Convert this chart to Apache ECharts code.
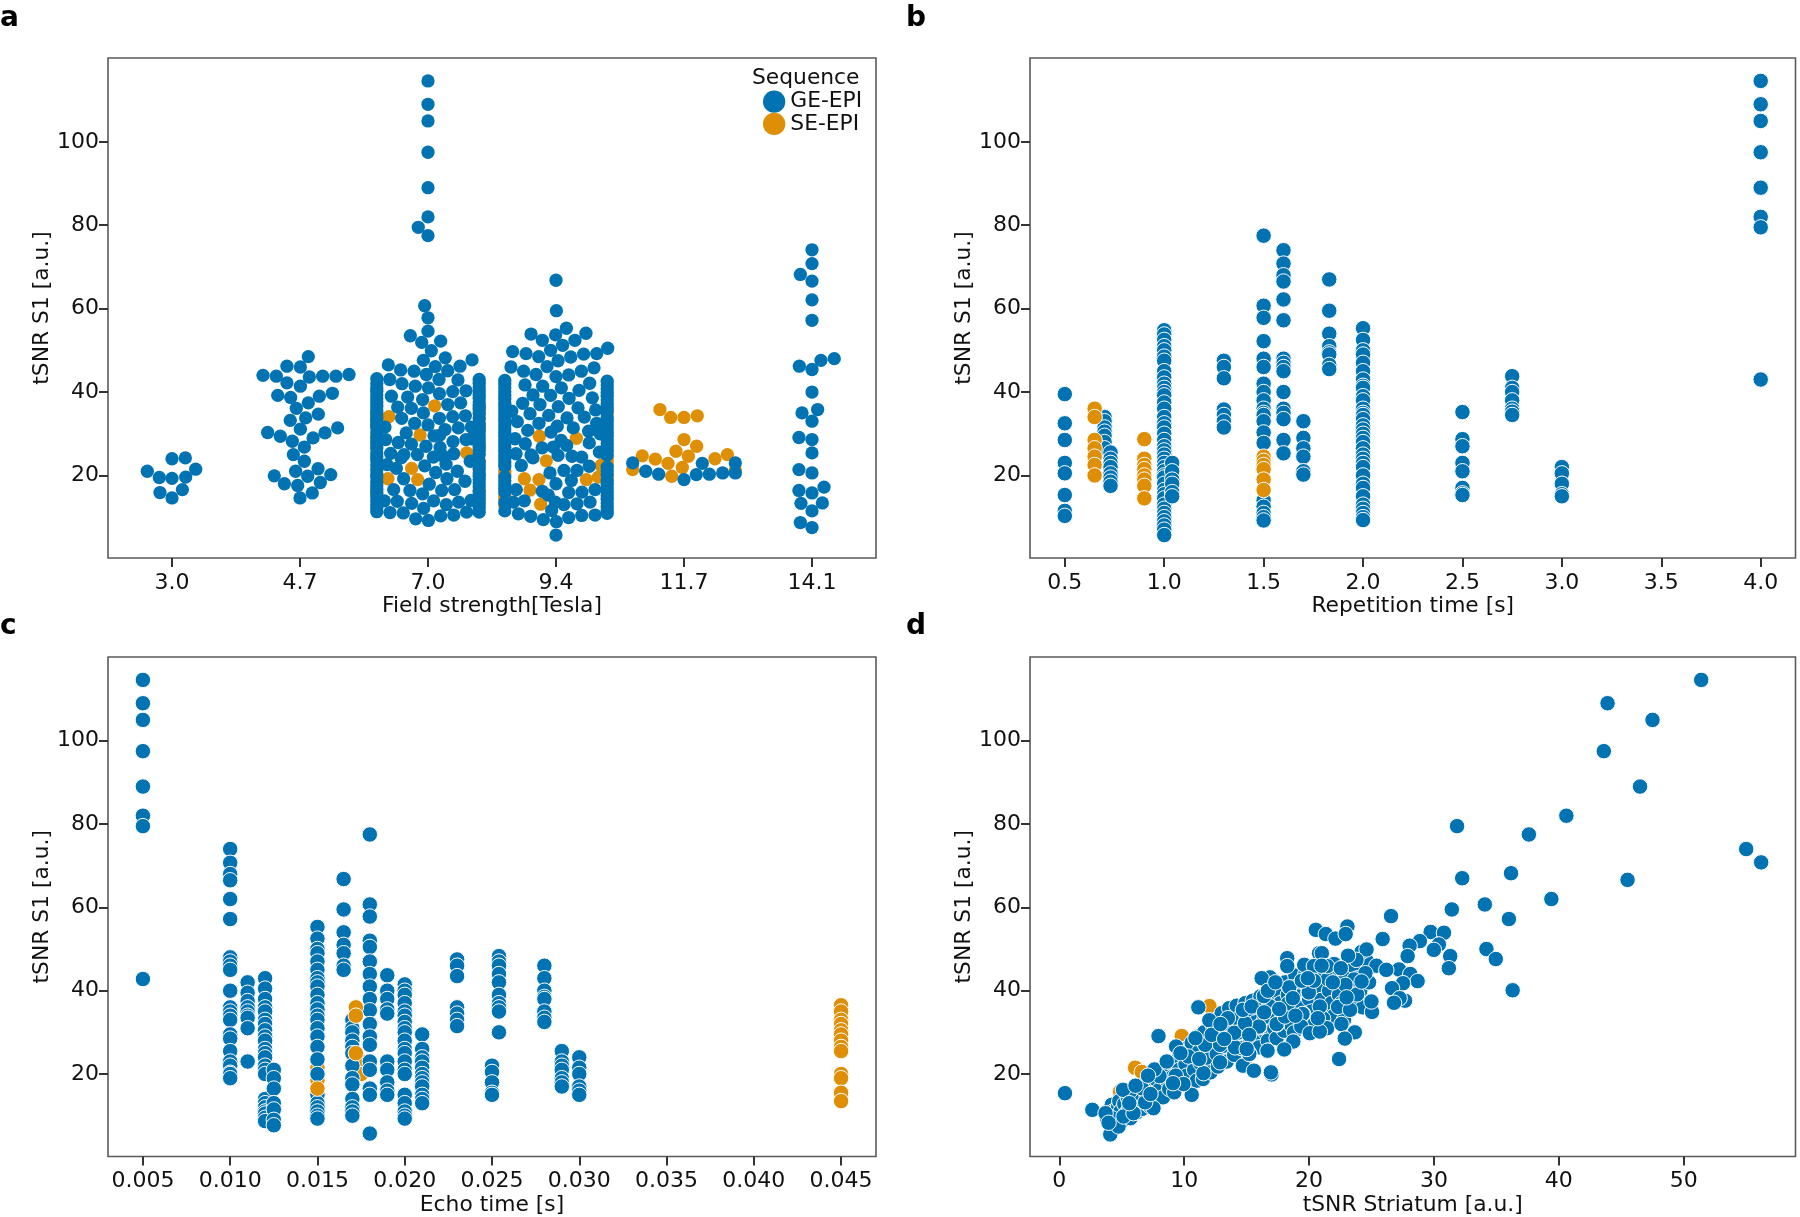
<!DOCTYPE html>
<html><head><meta charset="utf-8">
<script src="https://cdn.jsdelivr.net/npm/echarts@6/dist/echarts.min.js"></script>
<style>html,body{margin:0;padding:0;background:#fff}#c{width:1800px;height:1217px}</style>
</head><body><div id="c"></div>
<script>
// ---------- labels ----------
const fieldLabels = ['3.0','4.7','7.0','9.4','11.7','14.1'];
const seqNames = ['GE-EPI','SE-EPI'];
const yTicks = [20,40,60,80,100];
const trTicks = [0.5,1,1.5,2,2.5,3,3.5,4];
const teTicks = [0.005,0.01,0.015,0.02,0.025,0.03,0.035,0.04,0.045];
const stTicks = [0,10,20,30,40,50];

// ---------- panel a: [offset from field category, tSNR S1] ----------
const a30 = [[0,24],[.104,24.2],[-.193,21],[-.099,19.5],[0,19.3],[.107,19.6],[.185,21.5],[-.094,15.9],[0,14.6],[.081,16.6]];
const a47 = [[.065,48.5],[-.102,46.2],[.003,46],[-.289,44],[-.185,43.8],[.073,43.6],[.177,43.8],[.281,43.8],[.383,44.2],[-.102,42.2],[.003,41.4],[-.174,39.2],[-.073,38.7],[.151,39],[.253,39.7],[.065,37.4],[-.029,36.1],[.143,34.7],[.044,33.8],[-.076,33.2],[.003,31.1],[-.253,30.3],[-.154,29.4],[.294,31.4],[.195,30.2],[.102,29],[-.06,28.2],[.034,26.8],[-.052,25],[.034,23.4],[-.034,21],[.141,21.6],[.24,20.2],[-.201,19.9],[.06,19.8],[.159,18.3],[-.122,18],[-.018,17.6],[.096,15.8],[0,14.6]];
const a70 = [[0,114.6],[0,109],[0,105],[0,97.5],[0,89],[0,82],[-.076,79.5],[0,77.5],
[-.026,60.7],[0,57.8],[0,54.6],[-.138,53.5],[-.049,51.9],[.099,52.2],[.026,49.9],[-.036,47.6],[.135,48.2],[.344,47.7],[-.31,46.5],[-.214,45.3],[-.109,45],[-.013,44.2],[.057,46.1],[.154,45.1],[.25,46.2],[.086,43],[.234,42.9],[-.299,43],[-.203,42],[-.099,41.4],[.003,41],[.089,39.6],[.193,40.1],[.297,40.3],[-.286,39],[-.159,38.8],[-.042,38.2],[.154,37],[.255,37.4],[-.237,36.4],[-.13,36.1],[-.036,35],[.089,33.7],[.193,34.1],[.292,34.3],[-.206,33.7],[-.104,32.5],[0,32.1],[.133,31],[.237,31.4],[.339,31.6],[-.336,31.6],[.047,29.5],[.195,28.1],[.297,28.6],[-.331,28.6],[-.232,27.9],[-.13,27.5],[-.016,27],[.094,26.7],[-.292,25.3],[-.188,25],[-.083,25],[.042,24.4],[.201,25.2],[-.026,22.3],[.141,22.7],[-.247,21.7],[.06,20.7],[.229,21],[-.19,19.2],[.01,17.9],[.148,19.2],[.289,18.6],[-.268,16.6],[-.141,16.4],[-.042,15.6],[.107,16.4],[.208,16.6],[-.341,13.9],[-.24,13.8],[-.128,13.3],[.044,13.9],[.143,13],[.24,13.6],[.336,14],[-.034,12.1],[-.297,11.1],[-.193,11],[-.096,9.6],[.003,9.2],[.099,10.3],[.201,10.5],[.302,11.2],
[.12,24.6],[-.32,22.6],[.33,23.4],[.34,28.8],[-.17,30.2],[.09,29.6],[-.21,24.2]];
const a70edgeL = [43.2,42,41,40.2,39.3,38.4,37.5,36.6,35.7,34.9,33.9,33.2,32.2,31.5,30.4,29.2,28.3,27.6,26.6,25.4,24.4,23.6,22.5,21.4,20.4,19.6,18.5,17.6,16.7,15.8,14.8,13.9,13,12.2,11.3];
const a70edgeR = [43,42.1,41.2,40.3,39.4,38.5,37.6,36.8,35.9,34.8,33.6,32.6,31.7,30.6,29.7,28.8,27.9,26.9,26,25,23.2,22.4,21.5,20.6,19.8,19,18.2,17.2,16,15.2,14.3,13.2,12.3,11.2];
const a94 = [[0,66.8],[.003,59.5],[.081,55.3],[-.195,53.9],[-.003,53.7],[.234,54.1],[-.107,52.4],[.148,52.4],[.052,51.2],[-.042,50],[-.339,49.7],[-.234,49.2],[-.135,48.5],[.115,48.4],[.216,49.1],[.318,49.2],[.404,50.5],[.016,47.5],[-.07,46.1],[-.352,46],[-.253,45],[-.156,44.2],[.297,45.8],[.198,45],[.099,44.1],[0,43.7],[.263,42.1],[-.242,41.7],[-.104,41.4],[.042,41],[.18,40.4],[-.18,39.3],[-.042,39.2],[.102,38.5],[.284,38.6],[-.26,37.3],[-.125,37],[.018,36.5],[.172,36.2],[.31,35.7],[-.203,34.8],[-.057,34.4],[.086,33.8],[.221,34],[-.346,35.4],[-.302,32.9],[-.133,32.5],[.01,31.8],[.135,31.4],[.318,32.5],[-.221,30.8],[-.039,30.4],[.255,30.6],[.344,30],[.083,27.2],[-.24,27.6],[-.109,26.6],[.26,27.8],[-.312,25.2],[-.195,24.9],[.016,24.8],[.125,24.6],[.339,25.6],[-.271,22.4],[.26,22.2],[-.047,20.6],[.062,21.2],[.164,21.2],[0,18],[-.31,16.6],[-.107,16.2],[.099,15.9],[.203,16],[.305,16.6],[-.005,13.6],[-.333,13.6],[-.247,13.9],[.062,13],[.164,13.2],[.266,13.6],[-.034,11.6],[-.294,10.8],[-.198,10.2],[-.099,9.4],[.003,8.9],[.099,9.9],[.201,10.4],[.305,10.5],[0,5.7],
[.04,28.4],[-.02,26.8],[.2,24.4],[-.32,28.8],[-.18,24.2],[.12,18.8],[-.06,15.3]];
const a94edgeL = [42.8,41.9,41,40.1,39.2,38.3,37.4,36.6,35.7,34.8,33.9,33,32.1,31.2,30.3,29.4,28.5,27.6,26.7,25.8,24.9,24,23.1,22.2,19.6,18.7,17.8,16.9,16,13.5,11.5];
const a94edgeR = [42.6,41.7,40.8,39.9,39,38.1,37.2,36.3,35.4,33.9,33,32.1,31.2,30.3,29.4,28.5,27.6,26.7,25.8,24.9,22,21.1,20.2,18.8,17.9,17,16.1,15.2,14.3,13.4,12.5,11.6,10.9];
const a117 = [[-.401,23],[-.299,21],[-.198,20.3],[0,19],[.096,20.2],[.198,20.3],[.302,20.6],[.143,22.9],[.401,20.6],[.401,23]];
const a141 = [[0,74.1],[0,70.8],[-.091,68.2],[0,66.6],[0,62.1],[0,57.2],[.174,48],[.07,47.6],[-.099,46.2],[0,45.4],[0,40],[.044,35.8],[-.078,35],[0,33],[-.102,29.1],[0,28.6],[0,25.4],[-.102,21.4],[0,20.6],[.094,17.2],[-.102,16.4],[0,15.8],[.081,13.4],[-.086,13.3],[0,11.5],[-.091,8.7],[0,7.5]];
const a70se = [[.052,36.7],[-.305,34.1],[-.062,29.7],[.302,25.4],[-.128,21.7],[-.313,19.2],[-.081,19],[-.4,34.4],[-.4,33],[-.4,31.8],[-.4,29.4],[-.4,26.8],[-.4,16],[.4,36.2],[.4,35.2],[.4,34],[.4,32],[.4,31],[.4,27.2],[.4,26.4],[.4,23.6],[.4,16.4],[.4,13.6]];
const a94se = [[-.13,29.4],[.159,28.9],[-.076,23.5],[-.247,19.2],[-.133,19],[-.203,16.5],[-.12,13.1],[.237,19],[.331,19.6],[.352,22.4],[-.4,21],[-.4,20.4],[-.4,15.2],[-.4,14.4],[-.4,12.8],[.4,34.8],[.4,24.4],[.4,23.6],[.4,22.8],[.4,19.6]];
const a117se = [[-.188,35.8],[-.104,33.9],[0,33.9],[.104,34.3],[0,28.6],[.099,27],[-.063,25.8],[.034,24.6],[-.326,24.7],[-.224,23.9],[-.125,22.9],[-.013,21.9],[.242,24],[.339,25],[-.096,19.8],[-.401,21.4],[.401,21.2]];

// ---------- panel b: tSNR S1 by repetition time ----------
const trGE = {
 0.5:[39.5,32.5,28.5,23,20.5,15.3,11.5,10.3],
 0.7:[34,33,31.5,30.5,29.5,28,26.5],
 0.73:[25.5,24,23,22,20.5,19.5,18.5,17.5],
 1.0:[54.8,53.8,52.5,51,50,48.5,47.5,45,43.5,42,41,40,39.2,37.5,36,34,32.5,31.5,30,28.5,27,26,25,24,23,22,21,20,19.5,18,16.5,15.5,14.5,13,12,11,10,9,8,7,5.7],
 1.04:[23,21,19,18,16,15],
 1.3:[47.5,46,43.3,35.8,34.5,33,31.5],
 1.5:[77.5,60.7,57.8,52.2,48,46,42,40,38,36,35,34.5,33,30.3,27.8,14,12.5,11,10,9.2],
 1.6:[74,70.8,68,66.5,62.2,57.2,48,47,46,45,40,36,35,33.5,28.5,25.3],
 1.7:[33,29,26.5,24.5,21,20.2],
 1.83:[67,59.5,54,51,49.5,49,46.5,45.5],
 2.0:[55.3,52.5,50,49,47,45,43,41.5,41,39,38,36,35,34.5,33.5,32,31,30,29,28,26.5,25,24,23,22,20,18,17,15,13,12,11,10,9.3],
 2.5:[35.2,28.7,27,23,21,17,15.7,15.3],
 2.75:[43.8,41,40,38,36,35.3,34.5],
 3.0:[22,20.5,18,15.5,15],
 4.0:[114.6,109,105,97.5,89,82,79.5,43]
};
const trSE = {
 0.65:[36,34,28.5,26.5,24.5,22.5,20],
 0.9:[28.7,24,22.5,21.5,20,19,17.5,14.5],
 1.5:[24.5,23.5,22.5,21.5,19,16.5]
};

// ---------- panel c: tSNR S1 by echo time ----------
const teGE = {
 0.005:[114.6,109,105,97.5,89,82,79.5,42.8],
 0.010:[74,70.7,68,66.5,62,57.2,48,47,46,45,40,36,35,34,33,29.5,28.5,25.5,23,22,20.3,20,19],
 0.011:[42,39.5,37.5,36,35,34,33.5,31,23],
 0.012:[43,40.5,38,36,35,33,32,30.5,29,28,26,25,24,22,21,20,14,13,12,11,10.5,9.5,8.7],
 0.0125:[21,19,16.5,13,11.5,9,7.7],
 0.015:[55.3,52.5,50,49,47,45,43,42,41,39,37,35.5,34,33,31,29,26.5,23.5,20,15,13,12,11,10,9.3],
 0.0165:[66.8,59.5,54,51,49,46,45],
 0.017:[33,31,30,28,26.5,25,22,19,17.5,14,12,11,10],
 0.018:[77.5,60.7,57.8,52,50.5,47,44,41,38,35.3,32,29,27,23,21,16.5,15,5.7],
 0.019:[43.7,40,38,35.5,34.5,23,21,18,16,15],
 0.020:[41.5,40,39,37,35,34,32.5,31,30,28,26,25,23,21,20,15,13,11,10,9.3],
 0.021:[29.5,26,24,23,21.5,20,19,18,17,15,14,13],
 0.023:[47.5,46,43.5,36,34.5,33,31.5],
 0.025:[22,20.5,18,15.5,15],
 0.0254:[48.3,47,46,44,42,39,37,36,35,30],
 0.028:[46,43,40,38.5,38,35,33.5,32.5],
 0.029:[25.5,23,22,21,19,18,17],
 0.030:[24,21.5,20,17,16,15]
};
const teSEunder = {
 0.015:[21.5,18.5],
 0.0175:[23,20]
};
const teSEover = {
 0.015:[16.5],
 0.0172:[36,34,25],
 0.045:[36.5,35,33,32,30.5,29.5,28,26.5,25.5,20,19,15.5,13.5]
};

// ---------- panel d: [tSNR striatum, tSNR S1] ----------
const stGE = [
[3.8,9.5],[3.9,10.6],[4,11.5],[4.2,12.6],[4.3,11],[4.4,8.5],[4.6,10],[4.7,12],[4.8,13.5],[4.9,11],[5,8.6],[5.2,12.8],[5.3,10.4],[5.5,14.2],[5.6,11.8],[5.7,9.4],[5.9,15.2],[6,12.8],[6.2,10.8],[6.3,15.6],[6.5,13.4],[6.6,11.6],[6.8,17.4],[7,14.6],[7.2,12.4],[7.3,17.8],[7.5,15.6],[7.6,13],[7.8,18.6],[8,16.2],[8.1,20.8],[8.3,14.4],[8.5,21.6],[8.6,18.6],[8.8,16.4],[9,22.6],[9.1,19.4],[9.2,15.6],[9.5,23.4],[9.6,21],[9.7,18],[10,26],[10.1,22.4],[10.2,19.6],[10.4,17],[10.6,27.5],[10.7,24],[10.8,21],[11,18.4],[11.1,29],[11.2,25.4],[11.3,22.6],[11.5,18.8],[11.6,30],[11.8,26.4],[12,23.8],[12.1,20.4],[12.3,31.6],[12.4,28],[12.6,24.8],[12.7,21.8],[13,34.6],[13.1,30.6],[13.2,26.8],[13.4,23],[13.6,35.8],[13.7,32],[13.8,28.4],[14,24.6],[14.2,36.4],[14.3,33.2],[14.4,30],[14.6,26.2],[14.7,22],[14.9,37],[15,34],[15.1,31],[15.3,28],[15.5,37.6],[15.6,35],[15.7,32.4],[15.9,29],[16,26.4],[16.1,38.6],[16.3,36],[16.4,33],[16.5,30],[16.7,28],[16.9,38.4],[17,35],[17.2,31],[17.4,28.6],[17.5,40],[17.7,37],[17.8,33],[18,30.4],[18.1,42],[18.3,39],[18.5,35],[18.6,31.6],[18.8,30],[18.9,43.6],[19,41],[19.1,38.6],[19.3,36],[19.5,33],[19.7,44],[19.8,41.6],[20,38],[20.2,35],[20.4,32],[20.5,43.8],[20.7,40.8],[21,37.8],[21.1,35],[21.3,44.2],[21.6,40],[21.8,37],[22,34],[22,46.4],[22.2,43],[22.4,39],[22.6,37],[22.8,33],[22.9,44],[23.2,40.4],[23.4,37.6],[23.6,45.8],[23.9,43],[24.1,40],[24.3,36],[24.6,47.2],[24.8,42],
[.45,15.4],[2.64,11.4],[4.08,5.5],[4.2,9.4],[4.74,7.4],[3.7,10.6],[3.94,8.3],[5.14,9.8],[5.67,15.9],[7.94,29.1],[7.54,11.8],[6.87,13.2],[5.94,10.6],[6.61,16.6],[8.02,19.5],[9.32,19.6],[7.62,21.1],[11.54,20.2],[10.6,15],[9.94,17.6],[10.33,24.2],[9.35,26.6],[11.13,36],[12.01,32.9],[11.67,27],[12.87,27],[12.87,22.8],[14.07,26.4],[14.01,29.9],[15.21,24.9],[15.58,20.8],[17,19.9],[16.94,20.4],[16.7,25.6],[16,31.2],[17.42,31.9],[18.78,27.8],[16.86,36.3],[18.25,47.8],[18.25,45.9],[16.86,43.2],[16.2,43],[19.63,46.2],[18.41,40.8],[19.95,39.6],[19.53,34.4],[20.8,49],
[32.26,67],[36.17,68.2],[31.43,59.5],[34.07,60.7],[36,57.2],[26.56,57.9],[23.07,55.4],[20.54,54.6],[21.34,53.6],[22.11,52.5],[22.93,53.6],[25.89,52.4],[29.73,54.1],[30.8,53.9],[28.87,51.9],[30.39,51.1],[29.99,49.8],[28.05,50.8],[27.89,48.3],[31.3,48.3],[31.19,45.4],[34.2,50],[34.95,47.6],[36.3,40.1],[21.02,49],[24.2,49.3],[24.6,49.9],[23.79,47.4],[25.39,46],[27.2,45.1],[26.18,45],[28.1,44],[28.69,42.3],[27.52,41.8],[26.64,40.6],[27.68,37.6],[27.25,38.2],[26.8,37.1],[25.04,34.9],[24.99,37.4],[24.51,44.2],[23.6,42.7],[21.5,42.8],[19.61,46.2],[20.38,45.9],[21.44,45.9],[23.12,48.4],[22.54,45.4],[18.41,40.8],[19.98,39.6],[19.42,42.4],[20.38,42.4],[22.91,41.4],[23.84,39.1],[22.32,36.1],[23.28,35.4],[19.47,34.4],[21.12,33.3],[19.37,31.4],[21.44,31],[22.59,32],[23.66,30],[22.86,28.5],[22.4,23.6],[17.4,32],[15.98,31.4],[16.81,36.3],[16.38,38.7],[14.87,32.2],[18.73,27.8],[18.01,25.9],[16.67,25.6],[15.21,24.8],[18.06,33.8],[18.33,37],[20.86,36.2],[20.06,29.8],[20.86,30.2],
[5.1,16.2],[6.1,17.2],[7.1,19.6],[8.6,23],[9.7,25],[10.9,28.6],[12.2,29.4],[13.5,33.4],[14.7,35.4],[15.4,36.2],[16.7,40],[17.3,42],[18.7,38.2],[19.9,43],[21,46],[21.9,42],[23,38.4],[20.7,33.4],[18.9,34],[24.2,42.2],[17.6,35.6],[15.2,29.4],[13.2,28.4],[11.2,23.6],[9.1,17.8],[7.3,15.2],[5.6,13],[12.9,32],[15,26],[16.4,34.8],
[31.85,79.5],[37.6,77.5],[40.6,82],[46.5,89],[43.6,97.5],[47.5,105],[43.9,109],[51.4,114.6],[55,74],[56.2,70.8],[45.5,66.6],[39.4,62]
];
const stSE = [[6.07,21.5],[8.31,16.2],[4.87,15.8],[9.8,29.1],[12.02,36.3],[15.08,35],[12.07,24.6],[14.86,22.2],[16.2,26.7],[6.6,20.5],[13.1,33.8],[11.5,30],[13,26]];

// ---------- build from the arrays ----------
const shift = (rows, i) => rows.map(r => [i + r[0], r[1]]);
const column = (rows, i, off) => rows.map(v => [i + off, v]);
const groups = g => Object.keys(g).flatMap(k => g[k].map(v => [+k, v]));

const panelAGE = [].concat(shift(a30,0), shift(a47,1), shift(a70,2), column(a70edgeL,2,-.4), column(a70edgeR,2,.4),
  shift(a94,3), column(a94edgeL,3,-.4), column(a94edgeR,3,.4), shift(a117,4), shift(a141,5));
const panelASE = [].concat(shift(a70se,2), shift(a94se,3), shift(a117se,4));

const BLUE = '#0173b2', ORANGE = '#de8f05', FONT = 'DejaVu Sans', INK = '#111';
const axisCommon = {
  splitLine:{show:false}, axisLine:{show:false,onZero:false}, scale:true,
  nameLocation:'middle',
  nameTextStyle:{fontFamily:FONT,fontSize:21.8,color:INK}
};
const labelStyle = {fontFamily:FONT,fontSize:22,color:INK,hideOverlap:false,showMinLabel:true,showMaxLabel:true};
const tickStyle = {show:true,length:9,lineStyle:{color:'#333',width:2}};

const rects = [
  {left:108,top:58,width:768,height:500},
  {left:1030,top:58,width:765.5,height:500},
  {left:108,top:657,width:768,height:500},
  {left:1030,top:657,width:765.5,height:500}
];
const xDefs = [
  {min:-.5,max:5.5,name:'Field strength[Tesla]',ticks:[0,1,2,3,4,5],fmt:v=>fieldLabels[Math.round(v)]},
  {min:.325,max:4.175,name:'Repetition time [s]',ticks:trTicks,fmt:v=>(+v).toFixed(1)},
  {min:.003,max:.047,name:'Echo time [s]',ticks:teTicks,fmt:v=>(+v).toFixed(3)},
  {min:-2.35,max:58.95,name:'tSNR Striatum [a.u.]',ticks:stTicks,fmt:v=>String(Math.round(v))}
];
const grid = rects.map(r => ({...r,show:true,borderColor:'#5a5a5a',borderWidth:1.6,backgroundColor:'#fff',containLabel:false}));
const xAxis = xDefs.map((d,i) => ({...axisCommon,type:'value',gridIndex:i,position:'bottom',min:d.min,max:d.max,name:d.name,nameGap:37.5,
  axisTick:{...tickStyle,customValues:d.ticks},
  axisLabel:{...labelStyle,customValues:d.ticks,formatter:d.fmt,margin:14}}));
const yAxis = rects.map((r,i) => ({...axisCommon,type:'value',gridIndex:i,position:'left',min:.2,max:120.1,name:'tSNR S1 [a.u.]',nameGap:45,nameRotate:90,
  axisTick:{...tickStyle,customValues:yTicks},
  axisLabel:{...labelStyle,customValues:yTicks,formatter:v=>String(Math.round(v)),margin:9,padding:[3,0,0,0]}}));

const swarm = (name,color,i,data) => ({type:'scatter',name,xAxisIndex:i,yAxisIndex:i,data,symbol:'circle',symbolSize:13.3,
  itemStyle:{color,opacity:1,borderWidth:0},silent:true,animation:false,clip:false,large:false});
const dots = (name,color,i,data) => ({type:'scatter',name,xAxisIndex:i,yAxisIndex:i,data,symbol:'circle',symbolSize:15.5,
  itemStyle:{color,opacity:1,borderColor:'#fff',borderWidth:1},silent:true,animation:false,clip:false,large:false});

const series = [
  swarm(seqNames[1],ORANGE,0,panelASE), swarm(seqNames[0],BLUE,0,panelAGE),
  dots(seqNames[0],BLUE,1,groups(trGE)), dots(seqNames[1],ORANGE,1,groups(trSE)),
  dots(seqNames[1],ORANGE,2,groups(teSEunder)), dots(seqNames[0],BLUE,2,groups(teGE)), dots(seqNames[1],ORANGE,2,groups(teSEover)),
  dots(seqNames[1],ORANGE,3,stSE), dots(seqNames[0],BLUE,3,stGE)
];
const letter = (text,left,top) => ({text,left,top,padding:0,textStyle:{fontFamily:FONT,fontWeight:'bold',fontSize:28,color:'#000'}});

const chart = echarts.init(document.getElementById('c'),null,{renderer:'canvas'});
chart.setOption({
  animation:false, backgroundColor:'#fff',
  title:[letter('a',0,5),letter('b',906,5),letter('c',0,613),letter('d',906,613),
    {text:'Sequence',left:752,top:67,padding:0,textStyle:{fontFamily:FONT,fontWeight:'normal',fontSize:21.8,color:INK}}],
  legend:{data:seqNames.map(n=>({name:n,icon:'circle',itemStyle:{color:n===seqNames[0]?BLUE:ORANGE,borderWidth:0}})),
    orient:'vertical',left:763,top:90.5,padding:0,itemWidth:22.3,itemHeight:22.3,itemGap:0,selectedMode:false,
    textStyle:{fontFamily:FONT,fontSize:21.8,color:INK}},
  grid,xAxis,yAxis,series
});
</script></body></html>
